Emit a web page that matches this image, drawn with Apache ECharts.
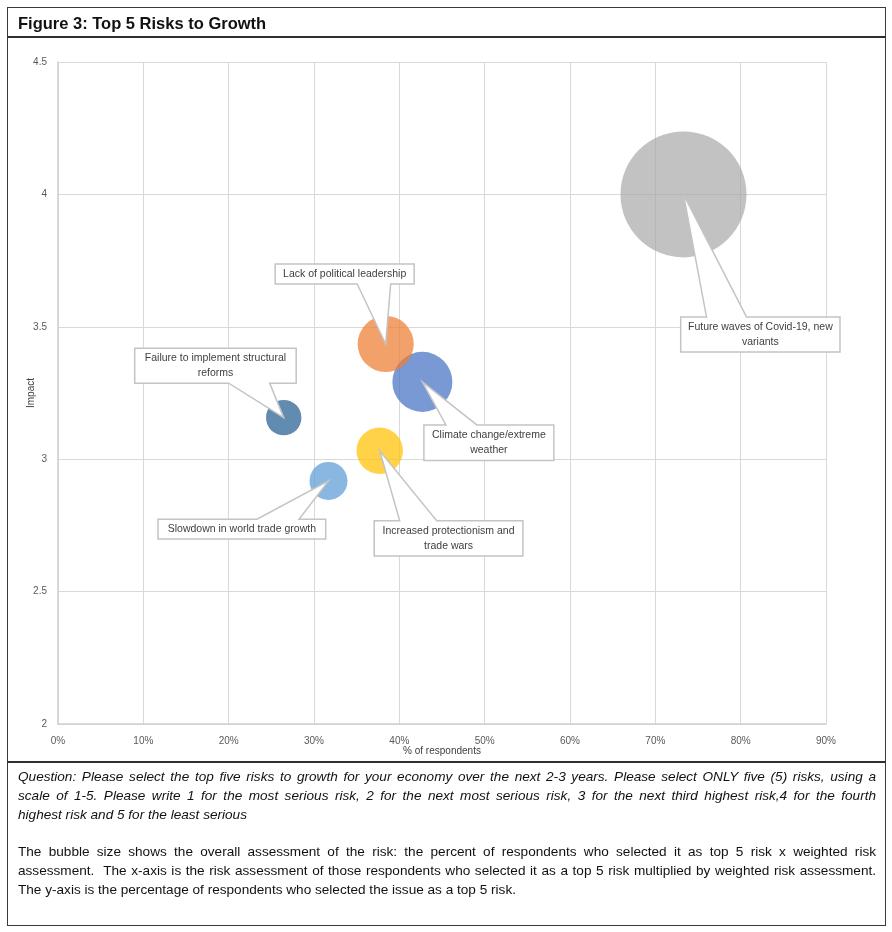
<!DOCTYPE html>
<html>
<head>
<meta charset="utf-8">
<script src="https://cdn.jsdelivr.net/npm/echarts@6/dist/echarts.min.js"></script>
<style>
  html, body { margin: 0; padding: 0; background: #fff; }
  body { width: 892px; height: 932px; position: relative; overflow: hidden; font-family: "Liberation Sans", Arial, sans-serif; }
  #chart { position: absolute; left: 0; top: 0; width: 892px; height: 932px; }
  .frame { position: absolute; left: 7px; top: 7px; width: 877px; height: 917px; border: 1.5px solid #3a3a3a; pointer-events: none; }
  .hline { position: absolute; left: 7px; width: 879px; background: #2f2f2f; pointer-events: none; }
  #title { position: absolute; left: 18px; top: 14px; font-weight: bold; font-size: 16.5px; color: #111; }
  .note { position: absolute; left: 18px; width: 858px; font-size: 13.6px; color: #111; line-height: 19px; }
  .note div { white-space: nowrap; }
  .note .j { text-align: justify; text-align-last: justify; }
  .it { font-style: italic; }
</style>
</head>
<body>
<div id="chart"></div>
<div class="frame"></div>
<div class="hline" style="top:36px;height:1.5px;"></div>
<div class="hline" style="top:761px;height:2px;"></div>
<div id="title">Figure 3: Top 5 Risks to Growth</div>
<div class="note it" style="top:767px;">
  <div class="j">Question: Please select the top five risks to growth for your economy over the next 2-3 years. Please select ONLY five (5) risks, using a</div>
  <div class="j">scale of 1-5. Please write 1 for the most serious risk, 2 for the next most serious risk, 3 for the next third highest risk,4 for the fourth</div>
  <div>highest risk and 5 for the least serious</div>
</div>
<div class="note" style="top:842px;">
  <div class="j">The bubble size shows the overall assessment of the risk: the percent of respondents who selected it as top 5 risk x weighted risk</div>
  <div class="j">assessment.&nbsp; The x-axis is the risk assessment of those respondents who selected it as a top 5 risk multiplied by weighted risk assessment.</div>
  <div>The y-axis is the percentage of respondents who selected the issue as a top 5 risk.</div>
</div>
<script>
// ---- data ----
const risks = [
  'Climate change/extreme\nweather',
  'Lack of political leadership',
  'Future waves of Covid-19, new\nvariants',
  'Increased protectionism and\ntrade wars',
  'Slowdown in world trade growth',
  'Failure to implement structural\nreforms'
];
const respondentsPct = [42.7, 38.4, 73.3, 37.7, 31.7, 26.45];
const impact = [3.292, 3.435, 4.0, 3.032, 2.918, 3.157];
const bubbleSize = [22.7, 19.8, 100, 13.6, 9.1, 7.9];
const xTicks = [0, 10, 20, 30, 40, 50, 60, 70, 80, 90];
const yTicks = [2, 2.5, 3, 3.5, 4, 4.5];

// ---- styles / layout ----
const colors = ['#4472C4', '#ED7D31', '#A5A5A5', '#FFC000', '#5B9BD5', '#255E91'];
// callout box offsets relative to the bubble centre (pixels)
const calloutLayout = [
  { dx: 1.5,    dy: 43,   w: 130,   h: 35.5, side: 'top',    a: 23.5,  b: 54.5 },
  { dx: -110.5, dy: -80,  w: 139,   h: 20,   side: 'bottom', a: -28.5, b: 5 },
  { dx: -2.8,   dy: 122.5,w: 159.3, h: 35,   side: 'top',    a: 23,    b: 63 },
  { dx: -5.5,   dy: 70,   w: 148.7, h: 35.3, side: 'top',    a: 20,    b: 57 },
  { dx: -170.5, dy: 38.3, w: 167.7, h: 19.7, side: 'top',    a: -71.5, b: -29.5 },
  { dx: -149,   dy: -69.5,w: 161.5, h: 35,   side: 'bottom', a: -55,   b: -14 }
];
const maxDiameter = 126;

const points = risks.map((r, i) => ({
  value: [respondentsPct[i], impact[i], bubbleSize[i], i],
  itemStyle: { color: colors[i], opacity: i === 2 ? 0.68 : 0.72 }
}));

const chart = echarts.init(document.getElementById('chart'), null, { renderer: 'canvas' });
const axisLabelStyle = { color: '#595959', fontSize: 10, fontFamily: 'Liberation Sans, Arial' };
chart.setOption({
  animation: false,
  backgroundColor: 'transparent',
  grid: { left: 58, right: 66, top: 62, bottom: 208 },
  xAxis: {
    type: 'value', min: 0, max: 90, interval: 10,
    name: '% of respondents', nameLocation: 'middle', nameGap: 22, nameMoveOverlap: false,
    nameTextStyle: { color: '#404040', fontSize: 10, fontFamily: 'Liberation Sans, Arial' },
    axisLabel: Object.assign({ formatter: '{value}%', margin: 12 }, axisLabelStyle),
    axisLine: { show: true, lineStyle: { color: '#d0d0d0', width: 1.5 } },
    axisTick: { show: false },
    splitLine: { show: true, lineStyle: { color: '#d9d9d9', width: 1 } }
  },
  yAxis: {
    type: 'value', min: 2, max: 4.5, interval: 0.5,
    name: 'Impact', nameLocation: 'middle', nameGap: 22, nameRotate: 90, nameMoveOverlap: false,
    nameTextStyle: { color: '#404040', fontSize: 10, fontFamily: 'Liberation Sans, Arial' },
    axisLabel: Object.assign({ margin: 11 }, axisLabelStyle),
    axisLine: { show: true, lineStyle: { color: '#d0d0d0', width: 1.5 } },
    axisTick: { show: false },
    splitLine: { show: true, lineStyle: { color: '#d9d9d9', width: 1 } }
  },
  series: [
    {
      type: 'scatter',
      data: points,
      symbol: 'circle',
      symbolSize: v => maxDiameter * Math.sqrt(v[2] / 100),
      z: 2
    },
    {
      type: 'custom',
      z: 10,
      data: risks.map((r, i) => [respondentsPct[i], impact[i], i]),
      renderItem: function (params, api) {
        const i = api.value(2);
        const c = api.coord([api.value(0), api.value(1)]);
        const L = calloutLayout[i];
        const l = c[0] + L.dx, t = c[1] + L.dy, w = L.w, h = L.h;
        let pts;
        if (L.side === 'top') {
          pts = [[l, t], [c[0] + L.a, t], [c[0], c[1]], [c[0] + L.b, t], [l + w, t], [l + w, t + h], [l, t + h]];
        } else {
          pts = [[l, t], [l + w, t], [l + w, t + h], [c[0] + L.b, t + h], [c[0], c[1]], [c[0] + L.a, t + h], [l, t + h]];
        }
        return {
          type: 'group',
          children: [
            { type: 'polygon', shape: { points: pts }, style: { fill: '#ffffff', stroke: '#c4c4c4', lineWidth: 1.5 } },
            { type: 'text', style: {
                text: risks[i], x: l + w / 2, y: t + h / 2,
                align: 'center', verticalAlign: 'middle',
                fill: '#404040', fontSize: 10.5, lineHeight: 15,
                fontFamily: 'Liberation Sans, Arial'
            } }
          ]
        };
      }
    }
  ]
});
</script>
</body>
</html>
